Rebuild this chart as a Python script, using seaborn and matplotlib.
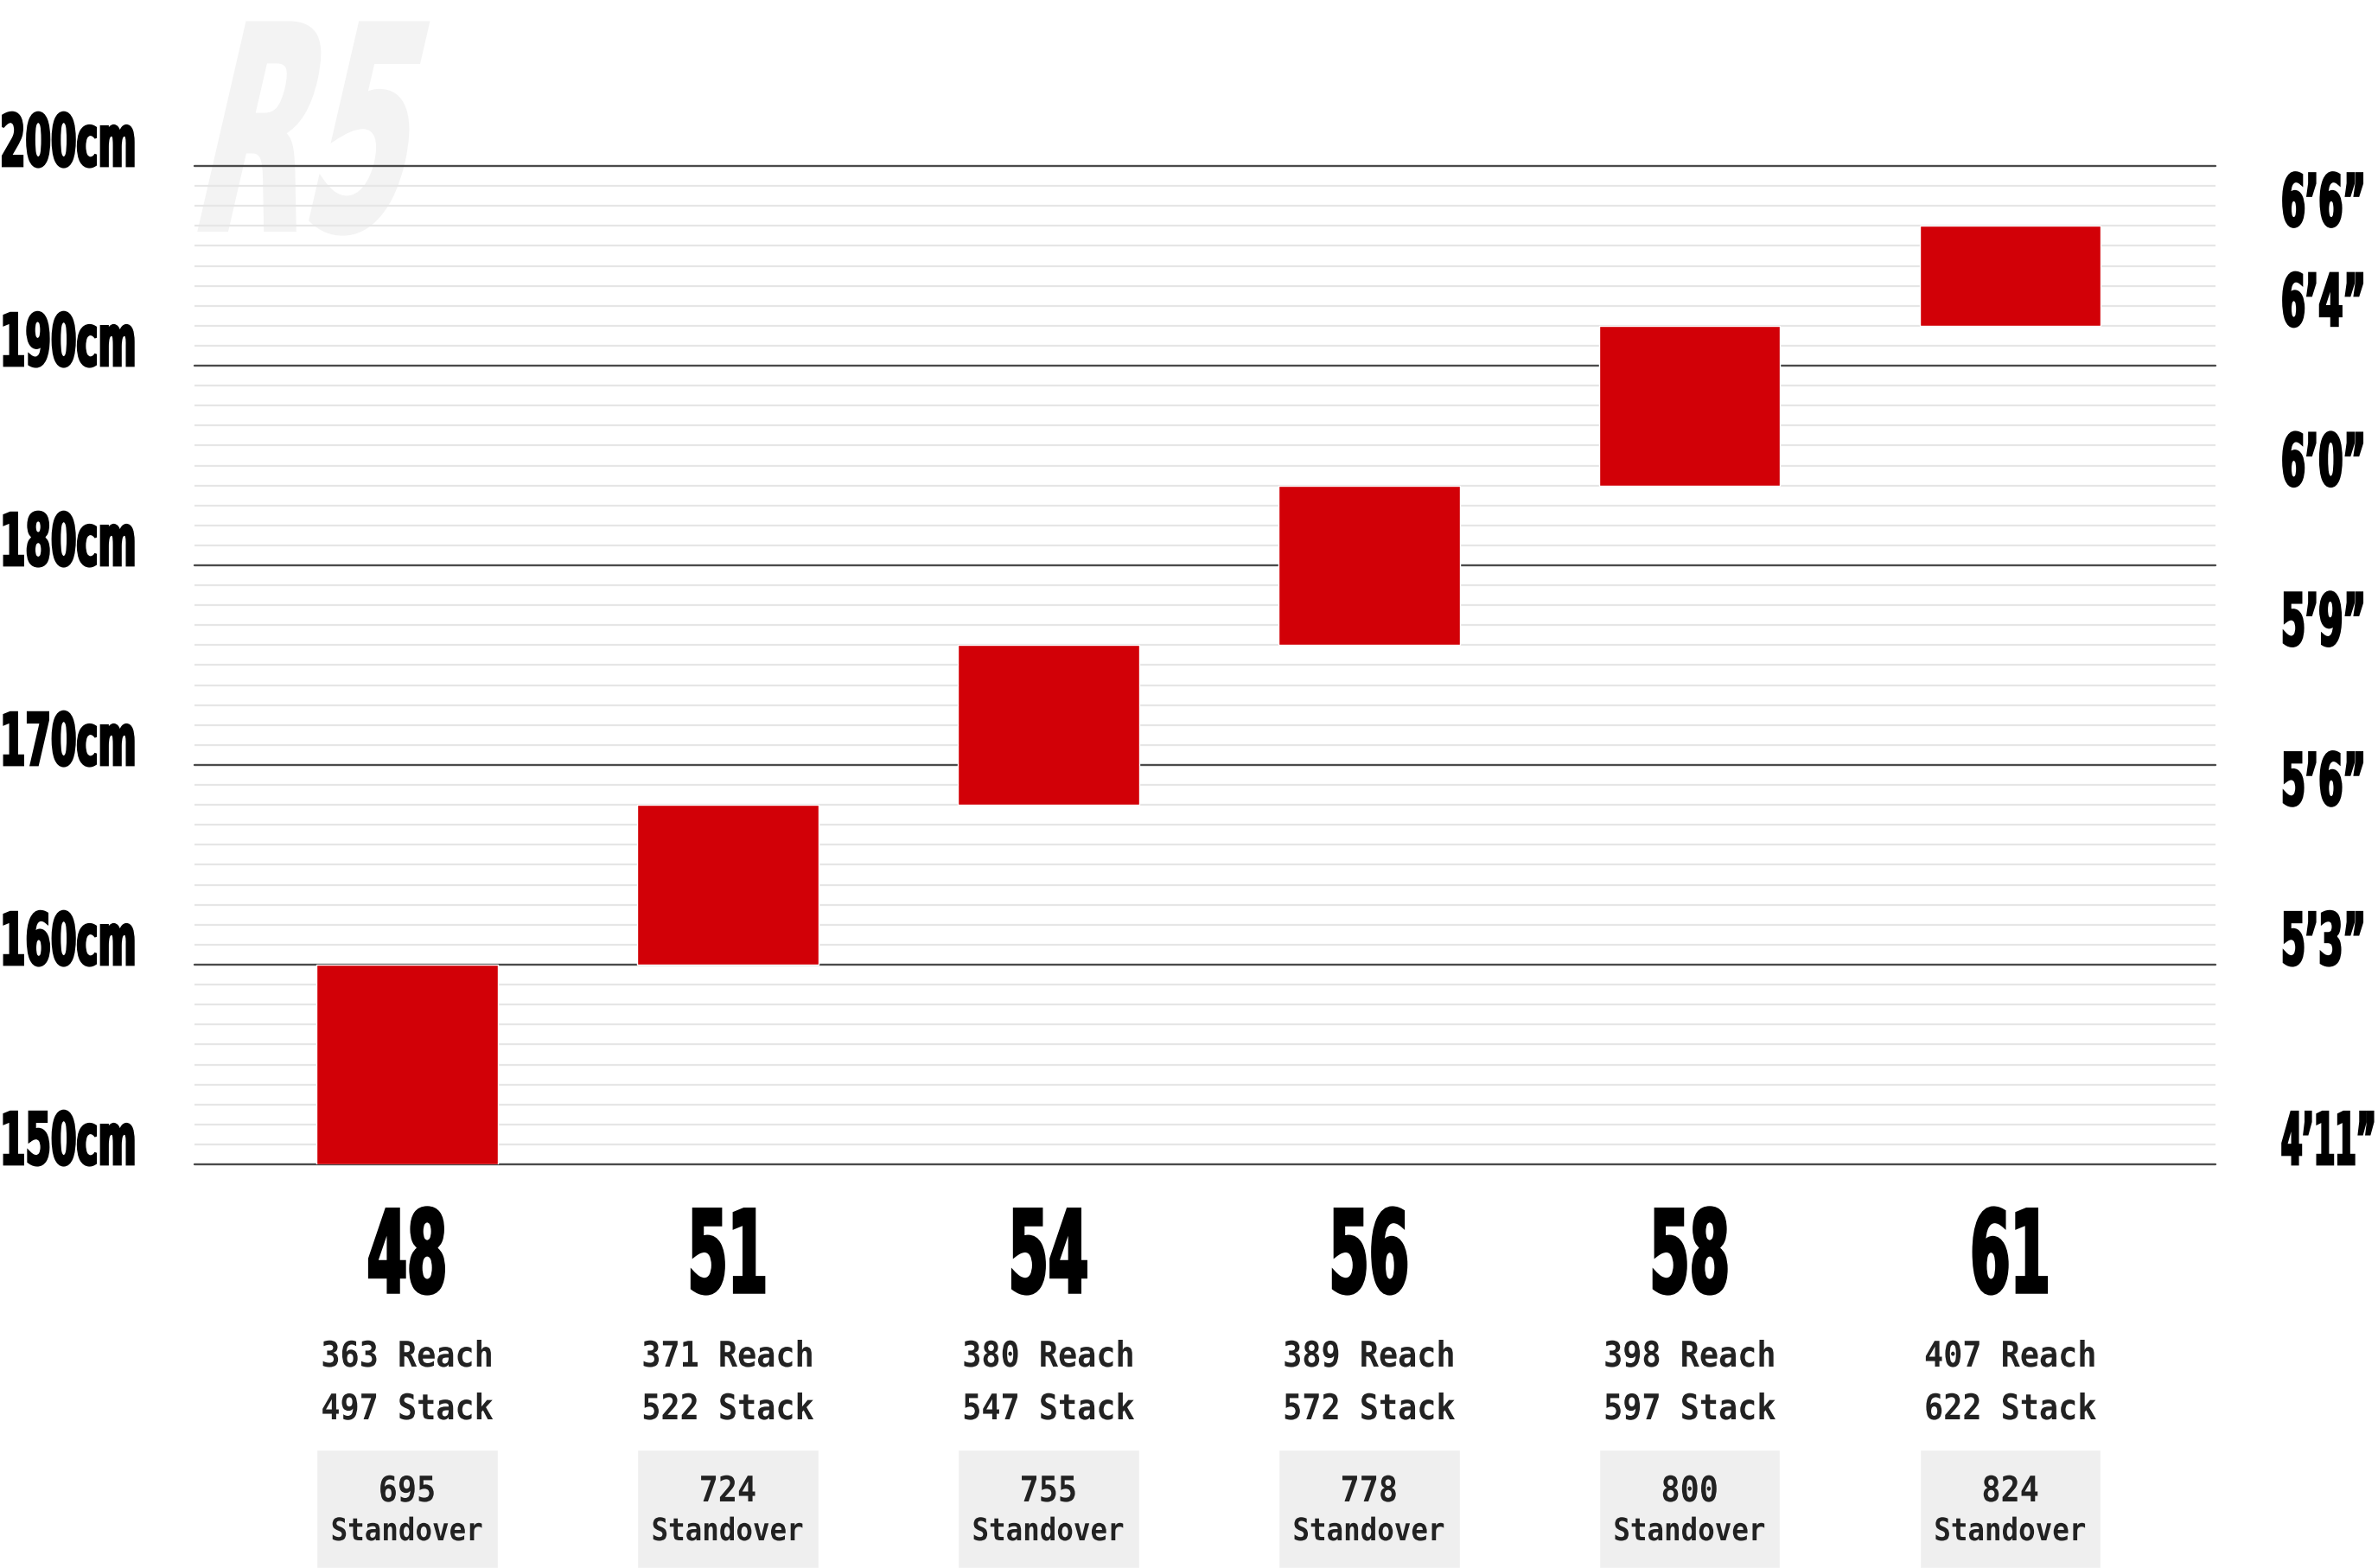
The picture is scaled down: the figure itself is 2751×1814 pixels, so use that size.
import matplotlib
matplotlib.use("Agg")
import matplotlib.pyplot as plt
import seaborn as sns
import numpy as np
import pandas as pd
from matplotlib import patheffects as pe
from matplotlib.transforms import Affine2D, blended_transform_factory

# --- datos ---
sizes = ["48", "51", "54", "56", "58", "61"]
rider_min_cm = [150, 160, 168, 176, 184, 192]
rider_max_cm = [160, 168, 176, 184, 192, 197]
reach_mm = [363, 371, 380, 389, 398, 407]
stack_mm = [497, 522, 547, 572, 597, 622]
standover_mm = [695, 724, 755, 778, 800, 824]
cm_ticks = [150, 160, 170, 180, 190, 200]
imperial_labels = ["4’11”", "5’3”", "5’6”", "5’9”", "6’0”", "6’4”", "6’6”"]
imperial_pos_cm = [150, 160, 168, 176, 184, 192, 197]

RED = "#d20007"
W, H = 2751, 1814
COND = ["DejaVu Sans"]
MONO = ["DejaVu Sans Mono"]


class Tall(pe.AbstractPathEffect):
    """Estira el texto en vertical desde la linea base (look condensado), con grosor e inclinacion opcionales."""

    def __init__(self, sy=2.0, stroke=0.0, skew=0.0):
        super().__init__()
        self.sy, self.stroke, self.skew = sy, stroke, skew

    def draw_path(self, renderer, gc, tpath, affine, rgbFace=None):
        tr = Affine2D().scale(1, self.sy).skew_deg(self.skew, 0) + affine
        gc0 = renderer.new_gc()
        gc0.copy_properties(gc)
        if self.stroke:
            gc0.set_linewidth(self.stroke)
            gc0.set_foreground(rgbFace)
            gc0.set_joinstyle("miter")
        renderer.draw_path(gc0, tpath, tr, rgbFace)
        gc0.restore()


sns.set_theme(style="white")
plt.rcParams["font.family"] = COND

fig = plt.figure(figsize=(W / 100, H / 100), dpi=100)
x0, x1 = 225, 2563
ax = fig.add_axes([x0 / W, (H - 1347) / H, (x1 - x0) / W, (1347 - 192) / H])

df = pd.DataFrame({"size": sizes, "low": rider_min_cm, "high": rider_max_cm})
df["span"] = df["high"] - df["low"]
sns.barplot(data=df, x="size", y="span", bottom=df["low"].tolist(), color=RED,
            saturation=1, width=0.565, errorbar=None, ax=ax, zorder=3)

ax.set_xlim(-0.663, 5.640)
ax.set_ylim(150, 200)
ax.set_yticks(cm_ticks)
ax.set_yticks(range(150, 201), minor=True)
ax.tick_params(which="both", length=0, labelleft=False, labelbottom=False)
ax.set_xlabel("")
ax.set_ylabel("")
ax.grid(False)
ax.grid(axis="y", which="minor", color="#e6e6e6", lw=1.6, zorder=0.5)
ax.set_axisbelow(True)
for sp in ax.spines.values():
    sp.set_visible(False)
for t in cm_ticks:
    ax.axhline(t, color="#4a4a4a", lw=1.7, zorder=1, clip_on=False)

# marca de agua
yblend = blended_transform_factory(ax.transAxes, ax.transData)
ax.text(-0.004, 196.8, "R5", transform=yblend, fontsize=120, fontweight="bold",
        color="#f3f3f3", ha="left", va="baseline", zorder=0.2, clip_on=False,
        path_effects=[Tall(1.97, 3, skew=13)])

# etiquetas laterales
fblend = blended_transform_factory(fig.transFigure, ax.transData)
for t in cm_ticks:
    ax.text(0.0, t, f"{t}cm", transform=fblend, fontsize=30.5, fontweight="bold",
            color="black", ha="left", va="baseline", clip_on=False,
            path_effects=[Tall(1.97, 2)])
for lab, pos in zip(imperial_labels, imperial_pos_cm):
    fs = 25.3 if len(lab) > 4 else 29
    ax.text(2639 / W, pos, lab, transform=fblend, fontsize=fs, fontweight="bold",
            color="black", ha="left", va="baseline", clip_on=False,
            path_effects=[Tall(60.0 / fs, 2)])

# tabla inferior
ax_tab = fig.add_axes([x0 / W, 0, (x1 - x0) / W, (H - 1380) / H])
ax_tab.set_xlim(-0.663, 5.640)
ax_tab.set_ylim(H, 1380)
ax_tab.axis("off")
ax_tab.bar(range(len(sizes)), H - 1677, bottom=1677, width=0.565, color="#efefef")

mono_kw = dict(ha="center", va="baseline", family=MONO, fontweight="bold",
               color="#222222", path_effects=[Tall(1.11)])
for i, s in enumerate(sizes):
    ax_tab.text(i, 1495, s, ha="center", va="baseline", fontsize=48, fontweight="bold",
                color="black", path_effects=[Tall(1.98, 2.5)])
    ax_tab.text(i, 1581, f"{reach_mm[i]} Reach", fontsize=26.5, **mono_kw)
    ax_tab.text(i, 1642, f"{stack_mm[i]} Stack", fontsize=26.5, **mono_kw)
    ax_tab.text(i, 1737, f"{standover_mm[i]}", fontsize=26.5, **mono_kw)
    ax_tab.text(i, 1782, "Standover", fontsize=23.4, **mono_kw)

fig.savefig("out.png", dpi=100)
